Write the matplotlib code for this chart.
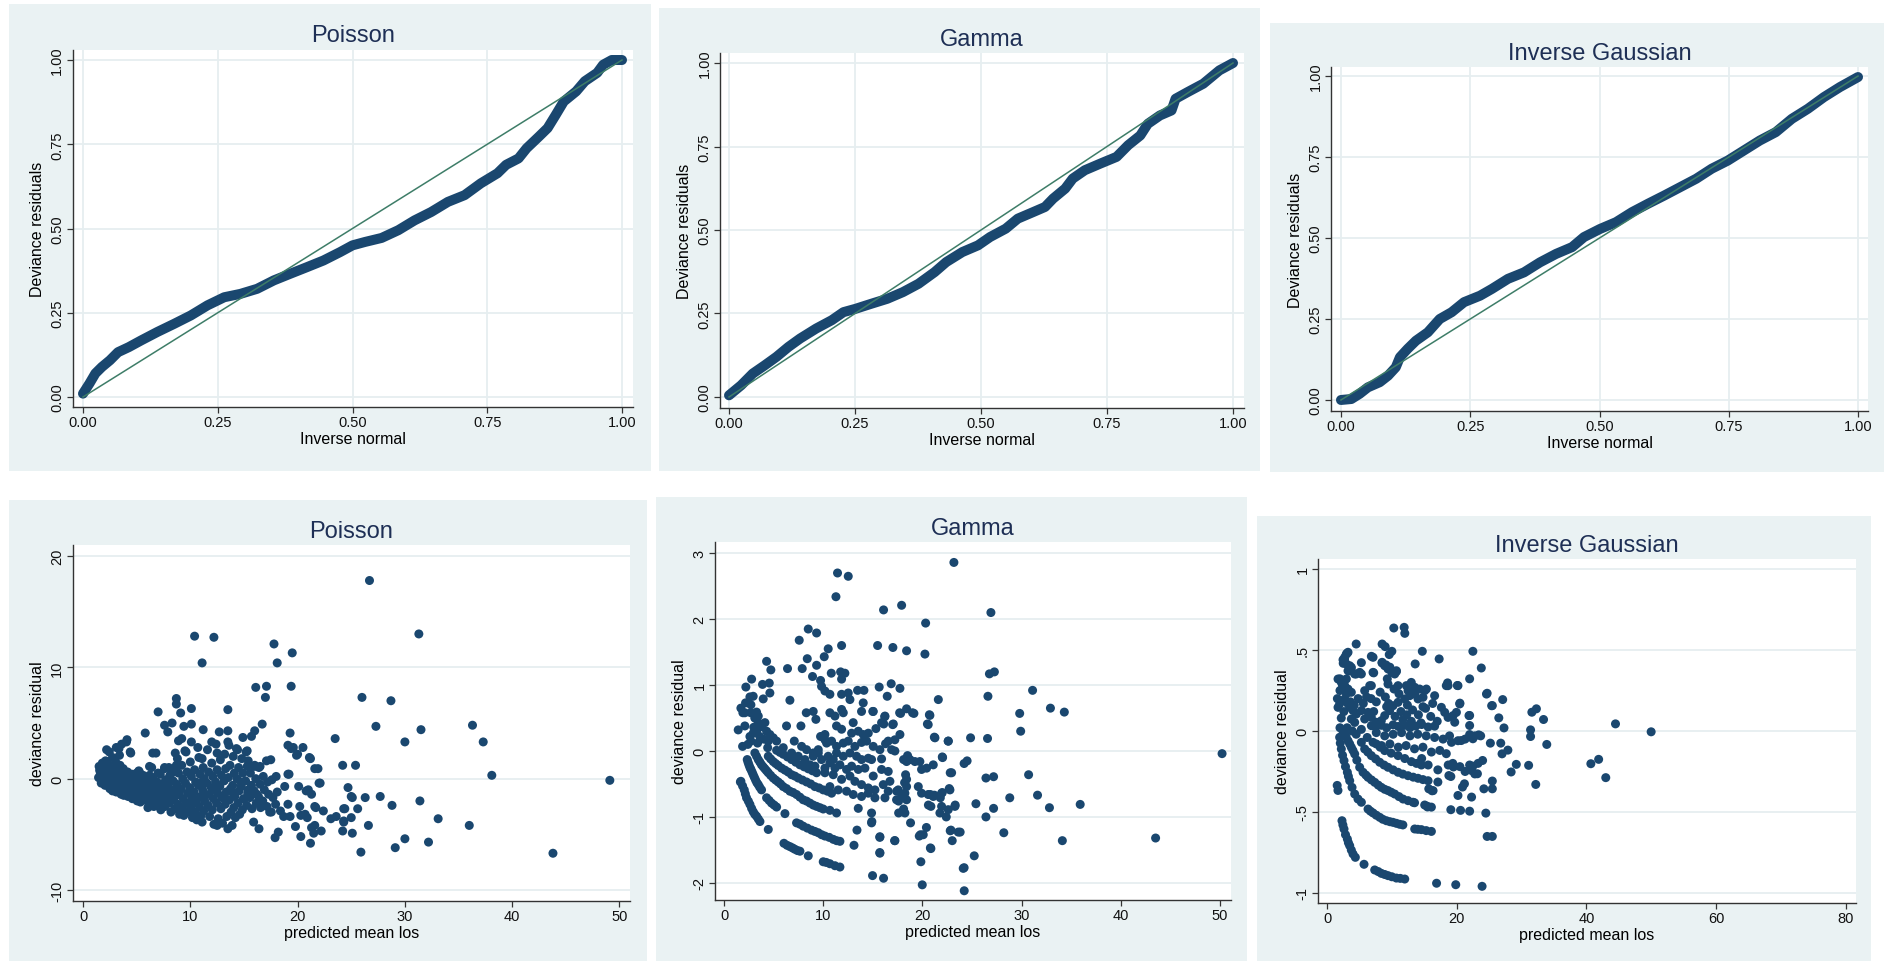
import numpy as np
import matplotlib
matplotlib.use("Agg")
import matplotlib.pyplot as plt
from matplotlib.patches import Rectangle

plt.rcParams['font.family'] = ['Liberation Sans', 'DejaVu Sans']

# ---------------- DATA ----------------
titles = ["Poisson", "Gamma", "Inverse Gaussian"]
pp_xlabel = "Inverse normal"
pp_ylabel = "Deviance residuals"
sc_xlabel = "predicted mean los"
sc_ylabel = "deviance residual"

pp_ticks = [0.0, 0.25, 0.5, 0.75, 1.0]
pp_ticklabels = ["0.00", "0.25", "0.50", "0.75", "1.00"]
ref_line = [0.0, 1.0]

pp_poisson = [(0.0, 0.01), (0.012, 0.04), (0.023, 0.07), (0.035, 0.089), (0.05, 0.109), (0.065, 0.133),
              (0.085, 0.148), (0.108, 0.168), (0.138, 0.193), (0.169, 0.217), (0.2, 0.242), (0.231, 0.272),
              (0.262, 0.296), (0.292, 0.306), (0.323, 0.321), (0.354, 0.346), (0.385, 0.366), (0.415, 0.385),
              (0.446, 0.405), (0.477, 0.43), (0.5, 0.45), (0.523, 0.46), (0.554, 0.472), (0.585, 0.495),
              (0.615, 0.524), (0.646, 0.549), (0.677, 0.579), (0.708, 0.599), (0.738, 0.634), (0.769, 0.664),
              (0.785, 0.689), (0.808, 0.708), (0.823, 0.738), (0.846, 0.773), (0.862, 0.798), (0.877, 0.837),
              (0.892, 0.877), (0.915, 0.907), (0.931, 0.937), (0.954, 0.962), (0.965, 0.986), (0.981, 1.0),
              (1.0, 1.0)]
pp_gamma = [(0.0, 0.005), (0.024, 0.035), (0.047, 0.07), (0.071, 0.095), (0.094, 0.12), (0.118, 0.15),
            (0.141, 0.175), (0.173, 0.205), (0.204, 0.23), (0.227, 0.254), (0.251, 0.264), (0.282, 0.279),
            (0.314, 0.294), (0.345, 0.314), (0.376, 0.339), (0.408, 0.374), (0.431, 0.404), (0.463, 0.434),
            (0.494, 0.454), (0.518, 0.479), (0.549, 0.504), (0.573, 0.534), (0.604, 0.554), (0.627, 0.569),
            (0.643, 0.594), (0.667, 0.624), (0.682, 0.654), (0.706, 0.679), (0.737, 0.699), (0.769, 0.719),
            (0.792, 0.754), (0.816, 0.783), (0.831, 0.818), (0.855, 0.843), (0.878, 0.858), (0.886, 0.893),
            (0.91, 0.913), (0.941, 0.938), (0.973, 0.978), (1.0, 1.0)]
pp_invgauss = [(0.0, 0.0), (0.02, 0.003), (0.036, 0.019), (0.052, 0.039), (0.075, 0.055), (0.091, 0.075),
               (0.106, 0.101), (0.114, 0.132), (0.129, 0.158), (0.145, 0.183), (0.168, 0.209), (0.191, 0.25),
               (0.214, 0.271), (0.238, 0.302), (0.269, 0.322), (0.292, 0.343), (0.323, 0.374), (0.354, 0.394),
               (0.385, 0.425), (0.416, 0.451), (0.447, 0.472), (0.47, 0.503), (0.501, 0.528), (0.532, 0.549),
               (0.563, 0.58), (0.594, 0.606), (0.625, 0.631), (0.656, 0.657), (0.687, 0.683), (0.717, 0.714),
               (0.748, 0.739), (0.779, 0.77), (0.81, 0.801), (0.841, 0.827), (0.872, 0.868), (0.903, 0.899),
               (0.934, 0.935), (0.965, 0.966), (1.0, 0.997)]

# Poisson: predicted mean los vs deviance residual
poisson_pts = [
    (26.7, 17.8), (10.4, 12.8), (12.2, 12.7), (11.1, 10.4), (17.8, 12.1), (18.1, 10.4), (19.5, 11.3), (31.3, 13.0),
    (16.1, 8.2), (17.1, 8.3), (19.4, 8.3), (17.0, 7.3), (26.0, 7.3), (28.7, 7.0), (27.3, 4.7), (31.5, 4.4),
    (36.3, 4.8), (37.3, 3.3), (30.0, 3.3), (23.5, 3.6), (38.1, 0.3), (49.1, -0.15), (24.2, 1.2), (25.4, 1.2),
    (24.7, -0.8), (25.1, -1.7), (26.3, -1.7), (27.7, -1.6), (28.8, -2.4), (31.4, -2.0), (33.1, -3.6), (26.6, -4.2),
    (36.0, -4.2), (30.0, -5.4), (32.2, -5.7), (29.1, -6.2), (25.9, -6.6), (43.8, -6.7), (25.1, -4.9), (24.2, -4.7),
    (24.3, -3.9), (25.0, -3.5), (25.6, -2.7), (23.1, -3.6), (23.6, -3.4), (22.4, -2.9), (24.3, -2.7), (22.0, -0.4),
    (21.9, 0.9), (21.6, 0.9), (21.2, 1.8), (20.5, 2.8), (19.9, 2.1), (19.3, 4.1), (19.1, 3.0), (19.4, 2.7),
    (19.2, 0.4), (18.8, -0.7), (20.1, -0.7), (20.8, -1.1), (21.3, -1.4), (21.7, -2.6), (20.2, -2.5), (19.1, -2.3),
    (20.3, -3.3), (20.9, -3.5), (21.3, -4.4), (21.5, -4.9), (22.2, -4.7), (19.8, -4.3), (20.3, -5.2), (21.2, -5.8),
    (17.9, -5.3), (18.2, -4.8), (15.9, -3.9), (16.4, -4.5), (13.5, -4.5), (12.5, -4.2), (11.1, -3.9), (18.7, -3.4),
    (19.3, -3.4), (18.4, -2.9), (17.4, -3.0), (21.0, -1.0), (22.1, -0.4), (20.7, -3.2), (21.6, -2.5), (24.4, -2.7),
    (25.0, -1.6), (21.6, -4.2), (24.3, -3.8),
    (8.7, 7.2), (8.7, 6.7), (7.0, 6.0), (9.1, 5.9), (10.1, 6.3), (13.5, 6.2), (7.6, 4.8), (8.3, 5.0), (7.9, 4.2),
    (9.4, 4.7), (10.1, 4.9), (5.8, 4.1), (11.2, 4.4), (16.7, 4.9), (16.0, 4.3), (15.7, 3.8), (14.9, 3.7), (12.7, 4.2),
    (13.5, 4.3), (4.1, 3.5), (3.6, 3.1), (3.1, 2.8), (2.2, 2.6), (4.4, 2.4), (6.5, 2.3), (8.9, 3.4), (9.2, 3.6),
    (10.1, 3.3), (10.7, 2.8), (12.0, 3.3), (12.5, 2.3), (13.5, 3.3), (14.3, 2.7), (15.3, 2.5), (19.6, 2.8), (20.0, 2.2),
    (21.1, 1.9), (17.1, 1.6), (17.5, 1.7), (8.6, 2.3), (9.5, 2.5), (8.7, 1.2), (11.1, 1.8), (7.6, 1.0), (6.2, 1.1),
    (5.2, 0.7), (3.4, 2.1), (16.0, 1.1), (16.5, 1.1), (15.4, 1.6), (19.1, 0.4),
    # dense mass at small predicted means
    (1.5, 1.1), (1.62, 0.5), (1.45, 0.1), (1.7, -0.4), (1.55, 0.75), (1.65, -0.05),
    (1.85, 0.8), (1.75, 0.3), (1.95, -0.2), (1.8, 1.4), (1.9, 0.55),
    (2.1, 1.6), (2.25, 1.0), (2.0, 0.4), (2.2, -0.1), (2.05, -0.6), (2.3, 0.25),
    (2.45, 2.4), (2.35, 1.3), (2.55, 0.6), (2.4, 0.0), (2.6, -0.5), (2.5, -0.9), (2.65, 0.3),
    (2.75, 1.9), (2.8, 0.9), (2.7, 0.2), (2.9, -0.3), (2.85, -0.8), (2.75, -1.1), (2.95, 0.5),
    (3.05, 1.5), (3.15, 0.7), (3.0, 0.0), (3.2, -0.6), (3.1, -1.2), (3.25, 0.35),
    (3.35, 2.7), (3.45, 1.2), (3.3, 0.4), (3.5, -0.2), (3.4, -0.9), (3.55, -1.4),
    (3.75, 0.9), (3.85, 0.1), (3.65, -0.5), (3.95, -1.1), (3.8, -1.5), (3.9, 0.55),
    (4.05, 3.3), (4.15, 0.6), (4.1, -0.2), (4.25, -0.8), (4.2, -1.6), (4.3, 0.2),
    (4.45, 2.3), (4.55, 0.4), (4.5, -0.4), (4.65, -1.2), (4.6, -1.8), (4.7, -0.05),
    (4.9, 0.2), (4.95, -0.6), (4.85, -1.4), (5.05, -2.0), (5.0, 0.5), (5.1, -1.0),
    (5.25, 0.6), (5.3, -0.1), (5.2, -0.9), (5.4, -1.6), (5.35, -2.1), (5.45, 0.25),
    (5.6, 0.3), (5.7, -0.5), (5.55, -1.2), (5.75, -1.9), (5.8, -0.85),
    (6.0, -0.2), (6.1, -0.9), (5.95, -1.6), (6.15, -2.3), (6.05, -2.6), (6.2, 0.3),
    (6.4, 1.0), (6.5, 0.1), (6.35, -0.6), (6.55, -1.3), (6.45, -2.0), (6.6, -2.5),
    (6.8, 2.3), (6.9, -0.3), (6.75, -1.0), (6.95, -1.8), (6.85, -2.4), (7.0, 0.5),
    (7.2, 0.4), (7.3, -0.5), (7.15, -1.4), (7.35, -2.1), (7.25, -2.8), (7.4, -1.0),
    (7.6, 0.9), (7.7, -0.1), (7.55, -0.9), (7.75, -1.7), (7.65, -2.5), (7.8, -1.3),
    (8.0, 1.0), (8.1, 0.3), (7.95, -0.6), (8.15, -1.3), (8.05, -2.2), (8.2, -3.0),
    (8.4, -0.2), (8.5, -1.0), (8.35, -1.9), (8.55, -2.7), (8.45, 0.6),
    (8.8, 1.8), (8.9, 0.5), (8.75, -0.5), (8.95, -1.4), (8.85, -2.3), (9.0, -3.2),
    (9.2, 1.2), (9.3, 0.0), (9.15, -0.9), (9.35, -1.8), (9.25, -2.6), (9.4, -3.3),
    (9.6, 2.4), (9.7, 0.6), (9.55, -0.4), (9.75, -1.3), (9.65, -2.2), (9.8, -3.0),
    (10.0, 1.5), (10.1, 0.2), (9.95, -0.8), (10.15, -1.7), (10.05, -2.6), (10.2, -3.5),
    (10.4, 0.8), (10.5, -0.3), (10.35, -1.2), (10.55, -2.1), (10.45, -3.0), (10.6, -3.7),
    (10.8, 1.9), (10.9, 0.4), (10.75, -0.6), (10.95, -1.6), (10.85, -2.5), (11.0, -3.3),
    (11.2, 1.0), (11.3, 0.0), (11.15, -1.0), (11.35, -2.0), (11.25, -2.9), (11.4, -1.5),
    (11.6, 2.6), (11.7, 0.6), (11.55, -0.4), (11.75, -1.4), (11.65, -2.4), (11.8, -3.4),
    (12.0, 1.4), (12.1, 0.2), (11.95, -0.8), (12.15, -1.8), (12.05, -2.8), (12.2, -4.1),
    (12.4, 3.1), (12.5, 0.8), (12.35, -0.3), (12.55, -1.3), (12.45, -2.2), (12.6, -3.6),
    (12.8, 1.7), (12.9, 0.3), (12.75, -0.7), (12.95, -1.7), (12.85, -2.7), (13.0, -4.0),
    (13.2, 2.2), (13.3, 0.9), (13.15, -0.2), (13.35, -1.2), (13.25, -2.3), (13.4, -3.4),
    (13.6, 3.0), (13.7, 1.2), (13.55, 0.1), (13.75, -0.9), (13.65, -1.9), (13.8, -3.0), (13.9, -4.2),
    (14.0, 2.0), (14.1, 0.5), (13.95, -0.6), (14.15, -1.6), (14.05, -2.6), (14.2, -3.5),
    (14.4, 2.6), (14.5, 1.0), (14.35, 0.0), (14.55, -1.1), (14.45, -2.2), (14.6, -3.2),
    (14.8, 1.8), (14.9, 0.5), (14.75, -0.7), (14.95, -1.8), (14.85, -2.8),
    (15.2, 2.4), (15.3, 1.1), (15.15, -0.2), (15.35, -1.3), (15.25, -2.4),
    (15.6, 0.5), (15.7, -0.6), (15.55, -1.7), (15.75, -2.7),
    (16.0, 1.2), (16.1, 0.0), (15.95, -1.1), (16.15, -2.2),
    (16.4, 1.0), (16.5, -0.5), (16.35, -1.6), (16.55, -2.6),
    (16.8, 0.2), (16.9, -1.0), (16.75, -2.0), (17.2, -0.3), (17.3, -1.4), (17.15, -2.5),
    (17.6, -0.1), (17.7, -1.7), (17.55, -3.0), (18.0, 0.2), (18.1, -1.2), (17.95, -2.3),
    (2.3, -0.3), (3.6, -0.95), (4.8, -0.2), (6.3, -1.7), (7.0, -2.0), (8.6, -1.6), (9.9, -2.3), (11.1, -0.3),
    (12.3, -1.0), (13.1, -1.6), (13.9, -1.2), (14.7, -0.3), (15.4, -1.0), (16.2, -1.4), (10.6, -1.9), (9.0, -1.1),
]

gamma_pts = [
    # arcs
    (1.70, -0.46), (1.87, -0.53), (2.04, -0.59), (2.15, -0.65), (2.27, -0.71), (2.45, -0.76), (2.61, -0.81),
    (2.78, -0.87), (2.94, -0.92), (3.1, -0.96), (3.28, -0.99), (3.45, -1.03), (3.62, -1.07), (4.46, -1.19),
    (6.04, -1.40), (6.35, -1.43), (6.64, -1.45), (6.9, -1.47), (7.14, -1.49), (7.4, -1.51), (7.65, -1.52),
    (8.49, -1.59), (10.0, -1.68), (10.3, -1.69), (10.67, -1.71), (11.18, -1.74), (11.68, -1.76),
    (2.34, -0.13), (2.42, -0.17), (2.51, -0.21), (2.61, -0.25), (2.71, -0.28), (2.83, -0.32), (2.94, -0.36),
    (3.06, -0.40), (3.18, -0.44), (3.31, -0.48), (3.45, -0.51), (3.6, -0.55), (3.78, -0.59), (4.29, -0.71),
    (4.55, -0.75), (4.79, -0.79), (5.05, -0.82), (5.30, -0.85), (6.14, -0.95), (7.31, -1.09), (7.65, -1.11),
    (7.98, -1.14), (8.4, -1.17), (8.82, -1.20), (9.16, -1.22), (9.50, -1.24), (9.84, -1.27), (10.17, -1.29),
    (10.6, -1.31), (11.01, -1.34), (11.35, -1.36), (11.68, -1.37),
    (3.11, -0.03), (3.28, -0.08), (3.45, -0.13), (3.62, -0.17), (3.78, -0.21), (3.95, -0.24), (4.12, -0.27),
    (4.29, -0.30), (4.46, -0.33), (4.7, -0.37), (4.96, -0.41), (5.2, -0.44), (5.46, -0.47), (5.7, -0.5),
    (5.97, -0.54), (6.3, -0.57), (6.64, -0.61), (6.97, -0.63), (7.31, -0.66), (7.65, -0.7), (7.98, -0.74),
    (8.32, -0.76), (8.66, -0.79), (9.0, -0.82), (9.33, -0.84), (9.67, -0.86), (10.0, -0.88), (10.67, -0.90),
    (11.34, -0.94),
    (4.46, -0.08), (4.7, -0.12), (4.96, -0.16), (5.2, -0.19), (5.46, -0.22), (5.8, -0.26), (6.14, -0.29),
    (6.47, -0.32), (6.81, -0.36), (7.14, -0.38), (7.48, -0.41), (7.9, -0.44), (8.32, -0.47), (8.74, -0.5),
    (9.16, -0.54), (9.58, -0.56), (10.0, -0.59), (10.42, -0.61), (10.84, -0.64),
    (5.30, 0.01), (5.63, -0.02), (5.97, -0.05), (6.39, -0.09), (6.81, -0.13), (7.23, -0.17), (7.65, -0.21),
    (8.07, -0.24), (8.49, -0.27), (8.91, -0.3), (9.33, -0.33),
    # left, positive
    (1.70, 0.65), (2.17, 0.73), (2.61, 0.82), (2.2, 0.97), (2.78, 1.09), (3.88, 1.01), (4.56, 1.03), (4.62, 0.88),
    (2.94, 0.83), (2.71, 0.70), (2.10, 0.58), (3.95, 0.79), (3.28, 0.59), (3.45, 0.53), (1.43, 0.32), (2.10, 0.38),
    (1.87, 0.07), (2.61, 0.22), (2.94, 0.27), (2.71, 0.15), (3.38, 0.12), (3.45, 0.43), (4.12, 0.43), (4.29, 0.30),
    (4.62, 0.25), (4.96, 0.20), (5.30, 0.15), (4.46, 0.15), (6.30, 0.38), (6.64, 0.77), (7.75, 0.38), (7.08, 0.15),
    (7.82, 0.07), (5.97, 0.05), (6.81, -0.03), (7.48, -0.08), (8.15, -0.13), (8.66, -0.21), (8.32, 0.02),
    (8.99, -0.08), (9.50, 0.02), (10.17, 0.17), (4.29, 1.36), (4.72, 1.23), (1.9, 0.58), (2.7, 0.58), (3.1, 0.5),
    (3.0, 0.36), (3.3, 0.30), (3.6, 0.22), (4.0, 0.18), (3.8, 0.37), (4.4, 0.05), (2.4, 0.1), (1.65, -0.47),
    # upper
    (11.44, 2.70), (12.52, 2.65), (11.28, 2.34), (23.17, 2.86), (16.08, 2.14), (17.90, 2.21), (20.32, 1.94),
    (20.25, 1.47), (26.90, 2.10), (8.49, 1.85), (9.33, 1.79), (7.58, 1.68), (10.5, 1.55), (11.85, 1.60),
    (15.48, 1.60), (17.02, 1.57), (18.40, 1.52), (8.39, 1.40), (10.10, 1.43), (9.33, 1.30), (6.40, 1.25),
    (7.88, 1.25), (8.92, 1.13), (10.81, 1.18), (11.75, 1.20), (12.18, 1.18), (11.85, 1.09), (9.73, 1.07),
    (9.83, 0.98), (10.17, 0.91), (10.67, 0.86), (11.85, 0.86), (12.52, 0.88), (12.69, 0.78), (13.46, 0.92),
    (14.10, 0.92), (14.03, 0.73), (15.64, 0.97), (16.85, 1.02), (17.73, 0.95), (16.45, 0.83), (21.6, 0.78),
    (20.5, 0.41), (20.7, 0.55), (21.2, 0.21), (22.6, 0.15), (18.4, 0.64), (19.0, 0.58), (17.7, 0.58), (16.2, 0.52),
    (16.1, 0.41), (17.0, 0.40), (15.0, 0.60),
    # central cluster
    (8.29, 0.58), (8.99, 0.60), (9.26, 0.48), (10.67, 0.58), (11.18, 0.53), (12.02, 0.58), (11.85, 0.63),
    (13.02, 0.43), (13.86, 0.60), (15.04, 0.60), (16.22, 0.53), (15.88, 0.43), (17.06, 0.41), (17.80, 0.57),
    (19.14, 0.57), (11.34, 0.38), (11.85, 0.33), (12.86, 0.27), (13.53, 0.30), (14.03, 0.25), (14.54, 0.27),
    (15.31, 0.34), (16.55, 0.15), (17.22, 0.17), (17.73, 0.25), (9.73, 0.22), (10.17, 0.25), (10.34, 0.12),
    (10.84, 0.15), (11.34, 0.07), (12.02, 0.12), (12.52, 0.15), (13.19, 0.07), (13.86, 0.13), (14.37, 0.15),
    (15.04, 0.07), (15.71, 0.02), (16.28, 0.11), (16.89, 0.02), (17.22, 0.00), (8.99, -0.03), (9.50, -0.03),
    (9.83, -0.13), (10.50, -0.08), (11.01, -0.13), (11.34, -0.03), (12.02, -0.08), (12.69, -0.03), (13.36, -0.08),
    (13.86, -0.13), (14.54, -0.11), (14.87, -0.13), (15.88, -0.12), (9.16, -0.23), (10.17, -0.26), (10.67, -0.18),
    (11.18, -0.26), (11.68, -0.21), (12.35, -0.28), (12.86, -0.23), (13.53, -0.28), (14.20, -0.26), (15.04, -0.38),
    (15.88, -0.28), (16.55, -0.31), (16.72, -0.46), (10.17, -0.33), (11.01, -0.36), (11.85, -0.43), (12.69, -0.38),
    (13.19, -0.46), (13.86, -0.51), (14.54, -0.56), (15.21, -0.59), (16.05, -0.51), (16.55, -0.61), (10.67, -0.54),
    (11.51, -0.59), (12.35, -0.61), (13.02, -0.66), (13.86, -0.69), (14.54, -0.64), (15.21, -0.71), (16.22, -0.71),
    (13.53, -0.87), (14.87, -0.94), (14.87, -1.09), (15.71, -1.30), (17.22, -1.36), (15.71, -1.55), (14.97, -1.89),
    (16.08, -1.93), (17.56, -0.59), (17.39, -0.74), (17.90, -0.69), (18.40, -0.43), (18.40, -0.54), (18.23, -0.64),
    (18.40, -0.74), (18.23, -0.94), (18.40, -0.16), (18.74, -0.13), (19.24, -0.16), (19.74, -0.16), (19.58, -0.54),
    (19.91, -0.64), (20.58, -0.66), (21.09, -0.69), (20.85, -0.84), (21.93, -0.64), (21.93, -0.84), (21.76, -0.94),
    (22.60, -0.89), (22.77, -0.59), (23.27, -0.84), (22.94, -0.33), (19.91, -0.28), (20.42, -0.26), (21.09, -0.21),
    (22.03, -0.10), (22.60, 0.15), (21.26, 0.20), (20.58, 0.40), (20.75, 0.54), (20.08, -1.27), (19.68, -1.29),
    (20.85, -1.48), (19.84, -1.68), (19.98, -2.03), (22.87, -1.20), (23.61, -1.23), (23.00, -1.36), (24.11, -1.78),
    (25.22, -1.59), (24.21, -2.12), (25.39, -0.80), (26.40, -0.41), (27.17, -0.39), (27.17, -0.87), (26.40, -1.00),
    (24.85, 0.20), (26.56, 0.19),
    # right side
    (26.75, 1.17), (27.25, 1.20), (26.6, 0.83), (31.1, 0.92), (29.8, 0.57), (32.9, 0.65), (34.3, 0.59), (29.9, 0.30),
    (50.2, -0.04), (24.2, -0.19), (24.5, -0.15), (30.7, -0.36), (28.8, -0.71), (31.6, -0.67), (32.8, -0.86),
    (35.9, -0.81), (23.8, -1.23), (28.2, -1.24), (34.1, -1.36), (43.5, -1.32),
    (18.8, -1.09), (19.8, -1.27), (20.4, -1.16), (20.8, -1.47), (22.8, -1.21), (24.2, -1.77), (15.7, -1.31),
    (15.7, -1.54), (17.2, -1.36), (13.4, -1.20), (13.1, -1.43), (14.9, -1.07), (22.4, -1.0), (23.3, -0.82),
    (22.0, -0.63), (21.8, -0.71), (20.8, -0.66), (21.2, -0.67), (20.6, -0.82), (22.7, -0.57), (22.8, -0.33),
    (22.0, -0.09), (18.1, -0.13), (18.5, -0.07), (18.3, -0.36), (18.2, -0.48), (17.4, -0.61), (17.6, -0.76),
    (18.1, -0.88), (18.0, -0.92), (17.6, -0.94),
]

invgauss_pts = [
    # arcs
    (2.31, -0.554), (2.45, -0.58), (2.62, -0.605), (2.85, -0.64), (3.14, -0.667), (3.3, -0.69), (3.5, -0.708),
    (3.75, -0.735), (4.01, -0.759), (4.37, -0.78), (5.71, -0.823), (7.36, -0.858), (7.9, -0.868), (8.38, -0.879),
    (8.9, -0.886), (9.41, -0.893), (10.0, -0.9), (10.7, -0.908), (11.3, -0.91), (11.99, -0.914), (16.9, -0.94),
    (19.86, -0.949), (23.92, -0.959),
    (1.95, -0.039), (2.05, -0.075), (2.21, -0.111), (2.4, -0.15), (2.62, -0.183), (2.85, -0.22), (3.14, -0.255),
    (3.3, -0.28), (3.5, -0.307), (3.86, -0.348), (4.27, -0.389), (4.78, -0.42), (5.3, -0.44), (6.33, -0.482),
    (6.7, -0.495), (7.1, -0.506), (7.6, -0.52), (8.13, -0.533), (8.6, -0.545), (9.16, -0.554), (9.7, -0.56),
    (10.18, -0.564), (10.7, -0.57), (11.21, -0.576), (11.7, -0.58), (13.53, -0.605), (14.0, -0.607), (14.56, -0.609),
    (15.3, -0.615), (16.1, -0.62), (1.57, -0.336), (1.69, -0.367),
    (2.73, -0.008), (2.95, -0.035), (3.24, -0.06), (3.5, -0.08), (3.75, -0.101), (4.0, -0.12), (4.27, -0.142),
    (4.6, -0.18), (5.04, -0.224), (5.56, -0.255), (6.0, -0.272), (6.33, -0.286), (6.85, -0.302), (7.36, -0.317),
    (7.9, -0.334), (8.38, -0.348), (8.9, -0.36), (9.41, -0.368), (9.9, -0.378), (10.44, -0.389), (11.1, -0.405),
    (11.73, -0.42), (12.5, -0.43), (13.27, -0.44), (15.07, -0.457), (15.5, -0.465), (16.1, -0.47),
    (5.3, -0.07), (5.81, -0.111), (6.3, -0.13), (6.84, -0.152), (7.5, -0.172), (8.13, -0.193), (8.8, -0.21),
    (9.41, -0.224), (10.2, -0.24), (10.96, -0.255), (11.7, -0.266), (12.5, -0.276), (13.3, -0.285), (14.04, -0.292),
    (14.8, -0.3), (15.59, -0.307), (16.36, -0.368),
    (7.6, -0.08), (8.2, -0.1), (8.9, -0.121), (9.9, -0.137), (10.96, -0.152), (12.0, -0.17), (13.01, -0.189),
    (13.8, -0.2), (14.56, -0.21),
    # upper and right
    (10.3, 0.636), (11.9, 0.64), (12.0, 0.603), (4.5, 0.537), (8.5, 0.537), (8.97, 0.521), (10.0, 0.492),
    (9.6, 0.472), (3.1, 0.48), (2.7, 0.445), (2.5, 0.418), (14.7, 0.492), (22.5, 0.492), (17.3, 0.445), (7.1, 0.455),
    (13.6, 0.414), (5.3, 0.422), (23.8, 0.389), (8.5, 0.424), (9.1, 0.408), (9.7, 0.394), (10.7, 0.367),
    (10.0, 0.363), (2.0, 0.322), (2.5, 0.297), (3.4, 0.37), (3.7, 0.39), (4.5, 0.352), (5.3, 0.352), (7.2, 0.359),
    (9.3, 0.322), (18.6, 0.297), (18.4, 0.28), (20.1, 0.281), (22.0, 0.322), (24.7, 0.233), (27.1, 0.194),
    (25.5, 0.157), (20.5, 0.172), (26.5, 0.081), (27.3, 0.019), (31.6, 0.116), (32.3, 0.137), (33.4, 0.071),
    (31.4, 0.007), (31.4, -0.034), (33.9, -0.083), (44.5, 0.044), (50.0, -0.005), (40.7, -0.202), (41.9, -0.175),
    (43.0, -0.288), (31.1, -0.212), (32.2, -0.33), (29.2, -0.206), (28.4, -0.253), (27.9, -0.118), (27.0, -0.141),
    (26.8, -0.075), (25.2, -0.075), (23.4, -0.024), (22.0, -0.022), (22.5, -0.048), (20.7, -0.059), (22.0, 0.096),
    (22.0, 0.034), (24.0, -0.182), (23.2, -0.264), (24.2, -0.357), (25.5, -0.309), (25.5, -0.357), (24.5, -0.507),
    (24.7, -0.651), (25.5, -0.651), (22.3, -0.408), (22.0, -0.495), (20.6, -0.49), (19.1, -0.486), (20.2, -0.398),
    (20.9, -0.346), (21.2, -0.326), (22.5, -0.217), (22.3, -0.244), (19.5, -0.222), (18.8, -0.275), (19.1, -0.281),
    (17.1, -0.315), (15.5, -0.469), (13.5, -0.443), (15.7, -0.357), (16.2, -0.369), (24.6, 0.228), (25.4, 0.156),
    (23.7, -0.03), (22.8, -0.03), (21.3, -0.05), (20.2, -0.06), (19.2, -0.07), (17.64, 0.146), (18.16, 0.115),
    (18.67, 0.084), (19.44, 0.095), (19.96, 0.115), (20.47, 0.167), (19.7, 0.054), (21.9, 0.095), (16.6, 0.218),
    (18.67, 0.28), (20.2, 0.28),
    # dense cluster
    (2.73, 0.455), (2.98, 0.475), (3.24, 0.486), (2.47, 0.44), (2.98, 0.414), (3.5, 0.403), (3.75, 0.393),
    (3.24, 0.372), (6.84, 0.461), (8.49, 0.42), (8.9, 0.403), (9.41, 0.383), (10.03, 0.366), (10.7, 0.372),
    (10.44, 0.352), (7.1, 0.362), (5.04, 0.362), (4.27, 0.352), (1.7, 0.321), (2.21, 0.3), (2.73, 0.28),
    (3.24, 0.259), (3.75, 0.239), (2.98, 0.321), (5.81, 0.249), (6.59, 0.28), (6.84, 0.28), (9.41, 0.29),
    (10.34, 0.259), (10.96, 0.28), (12.24, 0.28), (12.5, 0.249), (13.53, 0.27), (14.3, 0.259), (15.07, 0.249),
    (15.33, 0.259), (1.7, 0.146), (1.95, 0.167), (2.73, 0.198), (3.24, 0.167), (3.5, 0.146), (4.01, 0.126),
    (4.53, 0.105), (3.75, 0.074), (4.27, 0.053), (5.3, 0.126), (6.33, 0.115), (5.81, 0.074), (6.84, 0.084),
    (7.61, 0.054), (8.38, 0.064), (8.9, 0.095), (9.67, 0.126), (10.18, 0.156), (10.96, 0.177), (11.99, 0.198),
    (12.76, 0.218), (13.53, 0.228), (14.04, 0.198), (14.81, 0.208),
    (6.84, 0.033), (7.5, 0.025), (8.4, 0.035), (9.2, 0.02), (10.2, 0.038), (11.0, 0.028), (12.0, 0.035),
    (12.8, 0.02), (13.7, 0.03), (14.6, 0.04), (15.6, 0.025), (16.6, 0.03),
    (7.6, -0.01), (8.9, -0.03), (10.2, -0.02), (11.5, -0.01), (12.8, -0.03), (14.0, -0.02), (15.3, -0.03),
    (16.6, -0.04), (17.9, -0.05), (18.9, -0.03),
    (7.1, -0.07), (8.4, -0.09), (9.7, -0.08), (11.0, -0.1), (12.2, -0.09), (13.5, -0.11), (14.8, -0.1),
    (16.1, -0.13), (17.4, -0.12), (18.4, -0.14),
    (14.6, -0.17), (15.6, -0.21), (17.1, -0.24), (18.7, -0.21), (19.4, -0.2), (20.5, -0.22), (21.3, -0.25),
    (22.0, -0.21), (23.3, -0.2), (22.8, -0.265),
    (2.0, 0.02), (2.5, -0.01), (3.1, 0.02), (3.9, 0.0), (4.5, -0.02), (5.3, 0.01), (6.2, -0.04), (2.2, 0.08),
    (2.6, 0.12), (1.6, 0.2), (2.0, 0.25), (2.4, 0.28), (3.0, 0.23), (3.6, 0.18), (4.2, 0.16), (4.8, 0.2),
    (5.6, 0.17), (6.1, 0.21), (6.8, 0.2), (7.6, 0.18), (8.2, 0.24), (9.0, 0.21), (9.5, 0.17), (11.4, 0.12),
    (12.3, 0.1), (13.2, 0.13), (14.1, 0.1), (15.2, 0.14), (16.0, 0.09), (17.0, 0.06), (11.7, 0.07), (13.0, 0.06),
    (14.5, 0.05), (16.3, 0.17), (12.4, 0.16), (10.5, 0.09), (9.2, 0.15), (7.2, 0.12), (11.1, 0.23), (13.0, 0.3),
    (14.8, 0.15),
]

sc_xticks = [[0, 10, 20, 30, 40, 50], [0, 10, 20, 30, 40, 50], [0, 20, 40, 60, 80]]
sc_yticks = [[-10, 0, 10, 20], [-2, -1, 0, 1, 2, 3], [-1, -0.5, 0, 0.5, 1]]
sc_yticklabels = [["-10", "0", "10", "20"], ["-2", "-1", "0", "1", "2", "3"], ["-1", "-.5", "0", ".5", "1"]]
sc_xlims = [(-0.97, 50.98), (-0.91, 51.1), (-1.39, 81.6)]
sc_ylims = [(-10.99, 20.99), (-2.26, 3.17), (-1.062, 1.062)]
pp_xlims = [(-0.0193, 1.0204), (-0.0179, 1.0218), (-0.0193, 1.0193)]
pp_ylims = [(-0.0297, 1.0306), (-0.033, 1.03), (-0.034, 1.028)]

# ---------------- STYLE / LAYOUT ----------------
W, H = 1887, 962
BG = '#EAF2F3'
NAVY = '#1A476F'
REFC = '#3E7D68'
GRID = '#E6EEF0'
TITLEC = '#1E2F55'

bg_boxes = [(9, 5, 651, 472), (659, 9, 1260, 472), (1270, 24, 1884, 473),
            (9, 501, 647, 962), (656, 498, 1247, 962), (1257, 517, 1871, 962)]
ax_boxes = [(72.6, 50.7, 633, 408), (720, 54, 1244, 409), (1331, 68, 1868, 412),
            (72.6, 546, 630, 902), (715, 543, 1231, 901), (1318, 560, 1856, 904)]

fig = plt.figure(figsize=(W / 100, H / 100), dpi=100)
fig.patch.set_facecolor('white')

for (x0, y0, x1, y1) in bg_boxes:
    fig.add_artist(Rectangle((x0 / W, 1 - y1 / H), (x1 - x0) / W, (y1 - y0) / H,
                             transform=fig.transFigure, facecolor=BG, edgecolor='none', zorder=0))


def make_ax(box):
    x0, y0, x1, y1 = box
    ax = fig.add_axes([x0 / W, 1 - y1 / H, (x1 - x0) / W, (y1 - y0) / H])
    ax.set_facecolor('white')
    for s in ['top', 'right']:
        ax.spines[s].set_visible(False)
    for s in ['left', 'bottom']:
        ax.spines[s].set_color('#333333')
        ax.spines[s].set_linewidth(1.0)
    ax.tick_params(axis='both', direction='out', length=4, width=0.9, color='#333333',
                   labelsize=10.5, labelcolor='#111111', pad=2)
    ax.set_axisbelow(True)
    return ax


def style_title(ax, t):
    ax.set_title(t, fontsize=17, color=TITLEC, pad=6)


# top row: P-P plots
pp_data = [pp_poisson, pp_gamma, pp_invgauss]
for i in range(3):
    ax = make_ax(ax_boxes[i])
    pts = np.array(pp_data[i])
    ax.grid(True, color=GRID, linewidth=1.3)
    ax.plot(pts[:, 0], pts[:, 1], color=NAVY, linewidth=7.2, solid_capstyle='round',
            solid_joinstyle='round', zorder=3)
    ax.plot(ref_line, ref_line, color=REFC, linewidth=1.1, zorder=4)
    ax.set_xlim(*pp_xlims[i])
    ax.set_ylim(*pp_ylims[i])
    ax.set_xticks(pp_ticks)
    ax.set_xticklabels(pp_ticklabels)
    ax.set_yticks(pp_ticks)
    ax.set_yticklabels(pp_ticklabels, rotation=90, va='center')
    ax.set_xlabel(pp_xlabel, fontsize=11.5, labelpad=1)
    ax.set_ylabel(pp_ylabel, fontsize=11.5, labelpad=4)
    style_title(ax, titles[i])

# bottom row: residual vs predicted
sc_data = [poisson_pts, gamma_pts, invgauss_pts]
for i in range(3):
    ax = make_ax(ax_boxes[3 + i])
    pts = np.array(sc_data[i])
    ax.grid(True, axis='y', color=GRID, linewidth=1.3)
    ax.scatter(pts[:, 0], pts[:, 1], s=42, color=NAVY, edgecolors='none', zorder=3)
    ax.set_xlim(*sc_xlims[i])
    ax.set_ylim(*sc_ylims[i])
    ax.set_xticks(sc_xticks[i])
    ax.set_yticks(sc_yticks[i])
    ax.set_yticklabels(sc_yticklabels[i], rotation=90, va='center')
    ax.set_xlabel(sc_xlabel, fontsize=11.5, labelpad=1)
    ax.set_ylabel(sc_ylabel, fontsize=11.5, labelpad=4)
    style_title(ax, titles[i])

fig.savefig('out.png', dpi=100, facecolor='white')
